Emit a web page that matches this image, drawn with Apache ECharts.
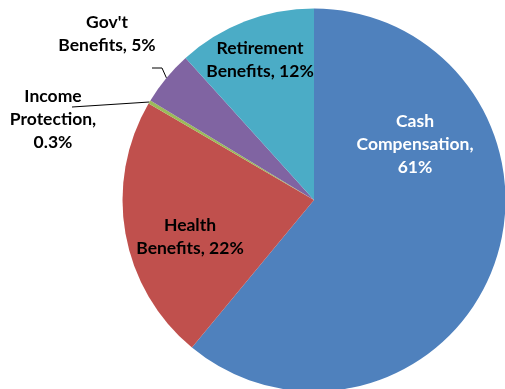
<!DOCTYPE html>
<html>
<head>
<meta charset="utf-8">
<script src="https://cdn.jsdelivr.net/npm/echarts@6/dist/echarts.min.js"></script>
<style>html,body{margin:0;padding:0;background:#fff;}#c{width:505px;height:389px;}</style>
</head>
<body>
<div id="c"></div>
<script>
const categories = ["Cash Compensation", "Health Benefits", "Income Protection", "Gov't Benefits", "Retirement Benefits"];
const values = [61.0, 22.4, 0.3, 4.6, 11.7];
const percentLabels = ["61%", "22%", "0.3%", "5%", "12%"];
const labelLines = ["Cash\nCompensation,\n61%", "Health\nBenefits, 22%", "Income\nProtection,\n0.3%", "Gov't\nBenefits, 5%", "Retirement\nBenefits, 12%"];
const colors = ["#4F81BD", "#C0504D", "#9BBB59", "#8064A2", "#4BACC6"];

// label anchor positions (layout only)
const labelPos = [[415, 144], [190, 237], [53, 119], [107, 34], [260, 60]];
const leaderBends = [null, null, [[72, 107]], [[162, 68], [152, 68]], null];

const chart = echarts.init(document.getElementById('c'), null, {renderer: 'canvas'});
chart.setOption({
  animation: false,
  series: [{
    type: 'pie',
    center: [314, 200],
    radius: 191.5,
    startAngle: 90,
    clockwise: true,
    avoidLabelOverlap: false,
    silent: true,
    itemStyle: {borderWidth: 0},
    label: {
      show: true,
      position: 'outside',
      fontFamily: 'Lato',
      fontWeight: 'bold',
      fontSize: 17.5,
      lineHeight: 23,
      color: '#000',
      align: 'center',
      formatter: p => labelLines[p.dataIndex]
    },
    labelLine: {show: true, lineStyle: {color: '#000', width: 1}, length: 10, length2: 10},
    labelLayout: function (params) {
      const i = params.dataIndex;
      const out = {x: labelPos[i][0], y: labelPos[i][1], align: 'center', verticalAlign: 'middle'};
      if (leaderBends[i] && params.labelLinePoints) {
        out.labelLinePoints = [params.labelLinePoints[0]].concat(leaderBends[i]);
      }
      return out;
    },
    data: categories.map((c, i) => ({
      name: c,
      value: values[i],
      itemStyle: {color: colors[i]},
      label: i === 0 ? {color: '#fff'} : {},
      labelLine: {show: !!leaderBends[i]}
    }))
  }]
});
</script>
</body>
</html>
